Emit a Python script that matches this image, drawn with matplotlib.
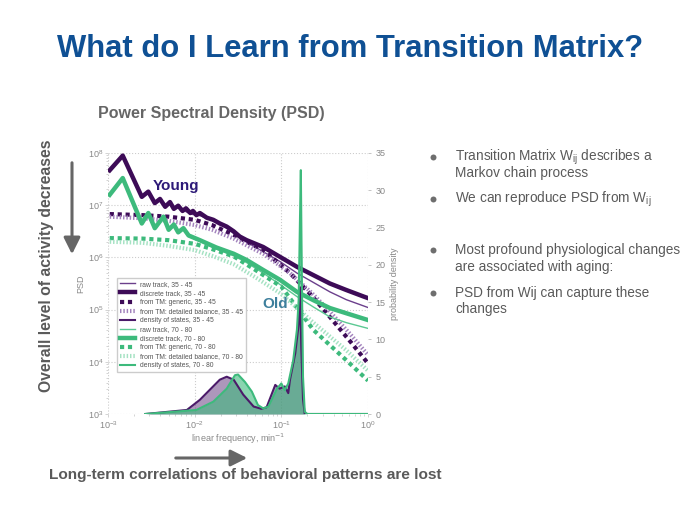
import numpy as np
import matplotlib.pyplot as plt
from matplotlib.patches import FancyArrowPatch
from matplotlib.lines import Line2D

plt.rcParams['font.family'] = ['Liberation Sans', 'DejaVu Sans']

# PSD curves: log10(frequency, 1/min) and log10(PSD)
young_disc_logf = [-2.98, -2.83, -2.61, -2.535, -2.46, -2.40, -2.34, -2.285, -2.24, -2.19, -2.14, -2.10,
                   -2.05, -2.02, -1.98, -1.94, -1.86, -1.785, -1.71, -1.63, -1.55, -1.48, -1.40, -1.21,
                   -1.015, -0.82, -0.63, -0.44, -0.25, -0.05, 0.0]
young_disc_logpsd = [7.67, 7.95, 7.16, 7.26, 7.04, 7.12, 6.97, 7.06, 6.93, 6.99, 6.89, 6.94,
                     6.85, 6.89, 6.81, 6.85, 6.76, 6.72, 6.65, 6.59, 6.50, 6.40, 6.33, 6.20,
                     6.01, 5.82, 5.66, 5.50, 5.375, 5.25, 5.22]

young_raw_logf = [-2.98, -2.83, -2.61, -2.535, -2.46, -2.40, -2.34, -2.285, -2.24, -2.19, -2.05, -1.94,
                  -1.78, -1.63, -1.48, -1.21, -1.015, -0.82, -0.63, -0.44, -0.25, 0.0]
young_raw_logpsd = [7.66, 7.93, 7.14, 7.24, 7.02, 7.10, 6.95, 7.03, 6.91, 6.96, 6.83, 6.80,
                    6.70, 6.56, 6.37, 6.11, 5.92, 5.70, 5.52, 5.34, 5.19, 5.04]

young_gen_logf = [-2.98, -2.6, -2.3, -2.0, -1.8, -1.55, -1.2, -0.9, -0.65, -0.44, -0.2, 0.0]
young_gen_logpsd = [6.83, 6.81, 6.78, 6.72, 6.62, 6.43, 6.13, 5.70, 5.27, 4.86, 4.38, 3.97]

young_db_logf = [-2.98, -2.6, -2.3, -2.0, -1.8, -1.55, -1.2, -0.9, -0.65, -0.44, -0.2, 0.0]
young_db_logpsd = [6.78, 6.75, 6.70, 6.62, 6.53, 6.36, 6.06, 5.70, 5.32, 4.96, 4.52, 4.13]

old_disc_logf = [-2.98, -2.83, -2.61, -2.535, -2.46, -2.36, -2.30, -2.24, -2.19, -2.13, -2.07, -1.94,
                 -1.75, -1.55, -1.40, -1.21, -1.015, -0.82, -0.63, -0.44, -0.25, 0.0]
old_disc_logpsd = [7.20, 7.52, 6.65, 6.85, 6.56, 6.78, 6.53, 6.63, 6.48, 6.56, 6.42, 6.33,
                   6.19, 6.07, 5.95, 5.76, 5.57, 5.34, 5.18, 5.03, 4.93, 4.80]

old_raw_logf = [-2.98, -2.83, -2.61, -2.535, -2.46, -2.36, -2.30, -2.24, -2.19, -2.13, -2.07, -1.94,
                -1.75, -1.55, -1.40, -1.21, -1.015, -0.82, -0.63, -0.44, -0.25, 0.0]
old_raw_logpsd = [7.19, 7.50, 6.63, 6.83, 6.54, 6.76, 6.51, 6.61, 6.46, 6.54, 6.40, 6.31,
                  6.16, 6.03, 5.90, 5.70, 5.48, 5.25, 5.05, 4.86, 4.75, 4.64]

old_gen_logf = [-2.98, -2.6, -2.3, -2.0, -1.8, -1.55, -1.3, -1.0, -0.63, -0.25, 0.0]
old_gen_logpsd = [6.37, 6.36, 6.33, 6.26, 6.16, 6.02, 5.76, 5.44, 4.61, 4.03, 3.64]

old_db_logf = [-2.98, -2.6, -2.3, -2.0, -1.8, -1.55, -1.3, -1.0, -0.63, -0.25, 0.0]
old_db_logpsd = [6.30, 6.28, 6.22, 6.14, 6.03, 5.87, 5.62, 5.30, 4.75, 4.22, 3.83]

# density of states (right axis)
young_dos_logf = [-2.57, -2.09, -1.94, -1.71, -1.63, -1.55, -1.44, -1.32, -1.23, -1.17, -1.07, -1.02,
                  -0.96, -0.92, -0.90, -0.84, -0.80, -0.785, -0.77, -0.75, -0.73, 0.0]
young_dos = [0, 0.54, 1.9, 4.6, 5.0, 4.6, 2.6, 1.0, 0.7, 0.9, 3.9, 3.4,
             3.7, 2.8, 4.6, 8.1, 12.0, 17.0, 9.0, 2.0, 0, 0]

old_dos_logf = [-2.57, -1.98, -1.785, -1.63, -1.535, -1.50, -1.42, -1.34, -1.27, -1.21, -1.15, -1.05,
                -1.00, -0.96, -0.92, -0.863, -0.82, -0.80, -0.785, -0.775, -0.765, -0.75, -0.73, -0.70, 0.0]
old_dos = [0, 0.54, 1.65, 3.4, 5.2, 5.3, 4.3, 3.0, 1.2, 0.76, 0.98, 3.4,
           4.1, 3.2, 4.1, 7.2, 11.3, 15.3, 26.0, 32.7, 20.0, 5.0, 0.3, 0, 0]

legend_labels = ["raw track, 35 - 45", "discrete track, 35 - 45", "from TM: generic, 35 - 45",
                 "from TM: detailed balance, 35 - 45", "density of states, 35 - 45",
                 "raw track, 70 - 80", "discrete track, 70 - 80", "from TM: generic, 70 - 80",
                 "from TM: detailed balance, 70 - 80", "density of states, 70 - 80"]

# bullet points: lines of text and pixel row of the first line
bullets = [
    (["Transition Matrix W$\\mathregular{_{ij}}$ describes a", "Markov chain process"], 157),
    (["We can reproduce PSD from W$\\mathregular{_{ij}}$"], 199),
    (["Most profound physiological changes", "are associated with aging:"], 250),
    (["PSD from Wij can capture these", "changes"], 293),
]

PURPLE = '#3d0b57'
PURPLE_RAW = '#6b3f8c'
PURPLE_DB = '#a383bd'
PURPLE_DOS = '#4b1a69'
GREEN = '#3dba7c'
GREEN_RAW = '#5cc993'
GREEN_DB = '#a5e2c3'
GRAY = '#5a5a5a'

W, H = 700, 525


def px(x, y):
    return x / W, 1 - y / H


def f(logs):
    return 10 ** np.asarray(logs)


def arrow(fig, start, end):
    fig.add_artist(FancyArrowPatch(px(*start), px(*end), transform=fig.transFigure,
                                   arrowstyle='-|>,head_width=0.45,head_length=0.9',
                                   mutation_scale=11, lw=2.2, color='#666666'))


def main():
    fig = plt.figure(figsize=(7, 5.25), dpi=100)

    # slide texts
    fig.text(*px(350, 49), "What do I Learn from Transition Matrix?", ha='center', va='center',
             fontsize=22.3, fontweight='bold', color='#0f5094')
    fig.text(*px(211, 114), "Power Spectral Density (PSD)", ha='center', va='center',
             fontsize=11.5, fontweight='bold', color='#666666')
    fig.text(*px(47, 266), "Overall level of activity decreases", ha='center', va='center',
             rotation=90, fontsize=11.3, fontweight='bold', color=GRAY)
    fig.text(*px(245, 475), "Long-term correlations of behavioral patterns are lost", ha='center',
             va='center', fontsize=11.1, fontweight='bold', color=GRAY)
    arrow(fig, (72, 160), (72, 257))
    arrow(fig, (173, 458), (250, 458))

    for lines, y in bullets:
        x0, y0 = px(433, y)
        fig.add_artist(Line2D([x0], [y0], marker='o', ms=4.3, color='#6e6e6e', mew=0,
                              transform=fig.transFigure))
        for i, line in enumerate(lines):
            fig.text(*px(455, y + 16.5 * i), line, ha='left', va='center', fontsize=9.8, color=GRAY)

    # PSD chart
    ax = fig.add_axes([108 / W, 1 - 414 / H, 260 / W, 261 / H])
    ax.set_xscale('log')
    ax.set_yscale('log')

    l1, = ax.plot(f(young_raw_logf), f(young_raw_logpsd), color=PURPLE_RAW, lw=1)
    l2, = ax.plot(f(young_disc_logf), f(young_disc_logpsd), color=PURPLE, lw=3.2)
    l3, = ax.plot(f(young_gen_logf), f(young_gen_logpsd), color=PURPLE, lw=3, ls=(0, (1, 0.9)))
    l4, = ax.plot(f(young_db_logf), f(young_db_logpsd), color=PURPLE_DB, lw=3, ls=(0, (0.35, 0.45)))
    l6, = ax.plot(f(old_raw_logf), f(old_raw_logpsd), color=GREEN_RAW, lw=1)
    l7, = ax.plot(f(old_disc_logf), f(old_disc_logpsd), color=GREEN, lw=3.2)
    l8, = ax.plot(f(old_gen_logf), f(old_gen_logpsd), color=GREEN, lw=3, ls=(0, (1, 0.9)))
    l9, = ax.plot(f(old_db_logf), f(old_db_logpsd), color=GREEN_DB, lw=3, ls=(0, (0.35, 0.45)))

    ax.set_xlim(1e-3, 1)
    ax.set_ylim(1e3, 1e8)
    ax.grid(True, which='major', ls=':', color='#cccccc', lw=0.8)
    for s in ax.spines.values():
        s.set_visible(False)
    ax.tick_params(which='both', labelsize=6.5, labelcolor='#888888', color='#cccccc', length=2,
                   width=0.6, pad=1.5)
    ax.tick_params(which='minor', length=1.5)
    ax.set_xlabel("linear frequency, min$^{-1}$", fontsize=6.5, color='#888888', labelpad=1)
    ax.set_ylabel("PSD", fontsize=6.5, color='#888888', labelpad=2)

    ax.text(10 ** -2.48, 10 ** 7.37, "Young", fontsize=11, fontweight='bold', color='#2d1a78', va='center')
    ax.text(10 ** -1.22, 10 ** 5.11, "Old", fontsize=11, fontweight='bold', color='#3d7f9c', va='center')

    ax2 = ax.twinx()
    ax2.fill_between(f(young_dos_logf), young_dos, color=PURPLE_DOS, alpha=0.45, lw=0)
    l5, = ax2.plot(f(young_dos_logf), young_dos, color=PURPLE_DOS, lw=1.5)
    ax2.fill_between(f(old_dos_logf), old_dos, color=GREEN, alpha=0.6, lw=0)
    l10, = ax2.plot(f(old_dos_logf), old_dos, color=GREEN, lw=1.5)
    ax2.set_ylim(0, 35)
    ax2.set_yticks(range(0, 36, 5))
    for s in ax2.spines.values():
        s.set_visible(False)
    ax2.tick_params(labelsize=6.5, labelcolor='#888888', color='#bbbbbb', length=2, width=0.6)
    ax2.set_ylabel("probability density", fontsize=6.5, color='#888888', labelpad=3)

    handles = [l1, l2, l3, l4, l5, l6, l7, l8, l9, l10]
    leg = ax2.legend(handles, legend_labels, loc='upper left', bbox_to_anchor=(0.02, 0.535), fontsize=4.9,
                     labelspacing=0.3, handlelength=2.2, borderpad=0.45, frameon=True, fancybox=False,
                     edgecolor='#cccccc', framealpha=1)
    for t in leg.get_texts():
        t.set_color('#555555')

    fig.savefig('out.png', dpi=100)


if __name__ == "__main__":
    main()
